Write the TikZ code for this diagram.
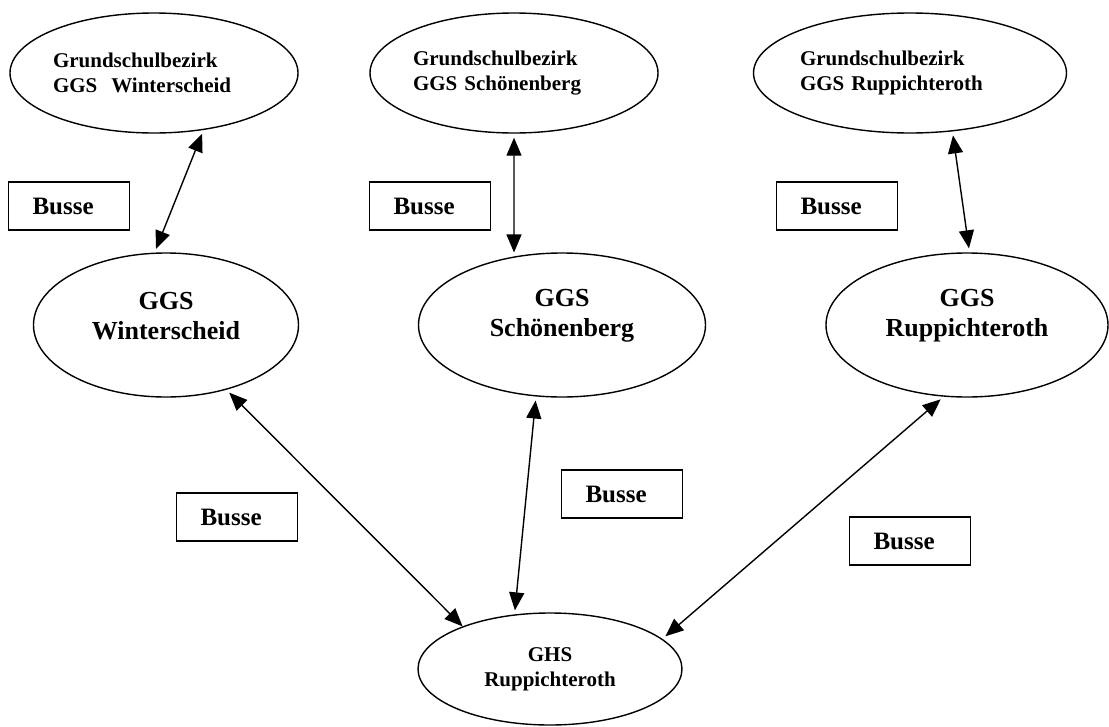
\documentclass[tikz,border=0pt]{standalone}
\usepackage{fontspec}
\setmainfont{Liberation Serif}
\usetikzlibrary{shapes.geometric,arrows.meta}
\begin{document}
\begin{tikzpicture}[x=1pt,y=-1pt,
  top/.style={draw,ellipse,line width=1.4pt,inner sep=0pt,minimum height=120pt,align=left,font=\bfseries\fontsize{21}{25}\selectfont},
  mid/.style={draw,ellipse,line width=1.4pt,inner sep=0pt,minimum height=144pt},
  midtxt/.style={align=center,yshift=9pt,font=\bfseries\fontsize{26}{30}\selectfont},
  bus/.style={draw,line width=1.5pt,inner xsep=24pt,text width=73pt,minimum height=48pt,align=left,font=\bfseries\fontsize{25}{30}\selectfont},
  link/.style={line width=1.4pt,{Triangle[length=18pt,width=15pt]}-{Triangle[length=18pt,width=15pt]},shorten <=4pt,shorten >=4pt}]
\useasboundingbox (0,0) rectangle (1109,726);
\node[top,text width=202pt,minimum width=288pt] (bw) at (154,73) {Grundschulbezirk\\GGS~ Winterscheid};
\node[top,text width=202pt,minimum width=288pt] (bs) at (514,73) {Grundschulbezirk\\GGS Schönenberg};
\node[top,text width=220pt,minimum width=313pt] (br) at (910,73) {Grundschulbezirk\\GGS Ruppichteroth};
\node[mid,minimum width=265pt,label={[midtxt,name=wt]center:{GGS\\Winterscheid}}] (w) at (166,325) {};
\node[mid,minimum width=287pt,label={[midtxt,name=st]center:{GGS\\Schönenberg}}] (s) at (562,325) {};
\node[mid,minimum width=282pt,label={[midtxt,name=rt]center:{GGS\\Ruppichteroth}}] (r) at (967,325) {};
\node[draw,ellipse,line width=1.4pt,inner sep=0pt,minimum width=264pt,minimum height=112pt,align=center,font=\bfseries\fontsize{21}{25}\selectfont] (ghs) at (550,669) {GHS\\Ruppichteroth};
\node[bus] (b1) at (69,206) {Busse};
\node[bus] (b2) at (430,206) {Busse};
\node[bus] (b3) at (837,206) {Busse};
\node[bus] (b4) at (237,517) {Busse};
\node[bus] (b5) at (622,494) {Busse};
\node[bus] (b6) at (910,541) {Busse};
\draw[link] (bw.-49) -- (w.99);
\draw[link] (bs.south) -- (s.125.3);
\draw[link] (br.-54.7) -- (r.88);
\draw[link,shorten >=0pt] (w.-47.5) -- (ghs.154.6);
\draw[link] (s.250.6) -- (ghs.123);
\draw[link] (r.252) -- (ghs.15.7);
\end{tikzpicture}
\end{document}
